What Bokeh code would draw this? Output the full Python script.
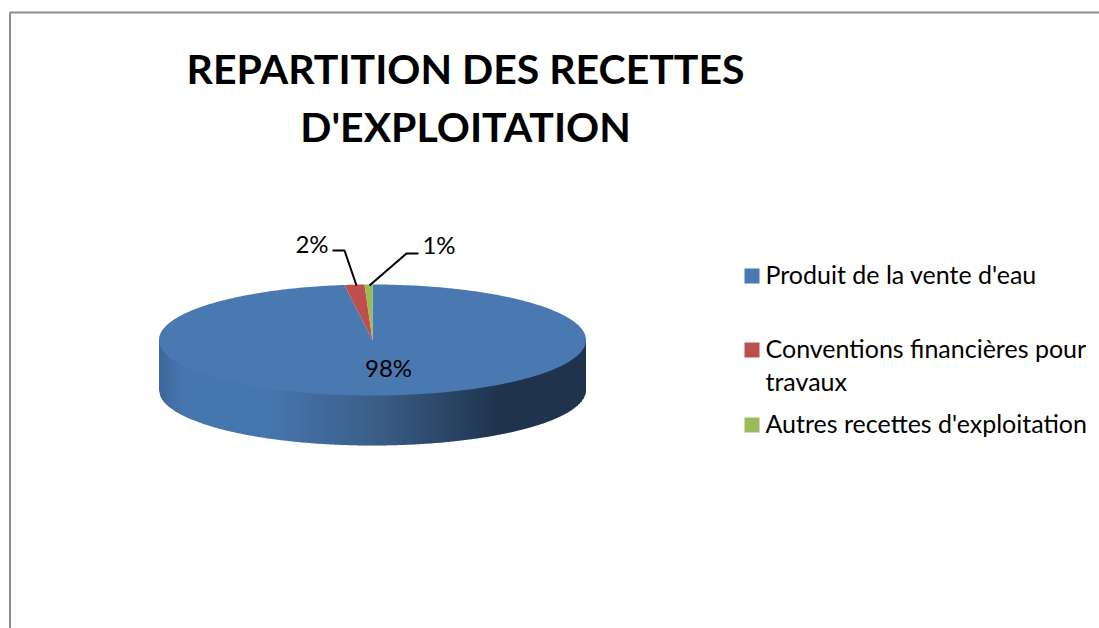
import numpy as np
from bokeh.plotting import figure
from bokeh.models import Range1d
from bokeh.core.properties import value
from bokeh.embed import file_html
from bokeh.resources import INLINE

title_lines = ["REPARTITION DES RECETTES", "D'EXPLOITATION"]
categories = ["Produit de la vente d'eau", "Conventions financières pour", "Autres recettes d'exploitation"]
legend_extra = "travaux"
shares = [97.9, 1.5, 0.6]
labels = ["98%", "2%", "1%"]
colors = ["#4A79B2", "#BE4F4C", "#9BBB59"]
side_stops_x = [0.0, 0.05, 0.26, 0.50, 0.80, 1.0]
side_stops_rgb = [(62, 104, 155), (70, 118, 174), (70, 118, 174), (60, 95, 138), (31, 51, 76), (31, 51, 76)]

W, H = 1099, 628
p = figure(width=W, height=H, output_backend="svg", toolbar_location=None,
           x_range=Range1d(0, W), y_range=Range1d(H, 0),
           min_border=0, outline_line_color=None, background_fill_color="white",
           border_fill_color="white")
p.axis.visible = False
p.grid.visible = False

# chart frame
p.line([9.5, 9.5, W], [H, 12, 12], line_color="#8C8C8C", line_width=2)

# pie geometry
cx, cy, rx, ry, depth = 372.0, 339.5, 213.5, 55.5, 50.0

# extruded side, shaded strip by strip
edges = np.arange(cx - rx, cx + rx, 2.0)
xs, ys, fills = [], [], []
for a in edges:
    b = min(a + 2.6, cx + rx)
    xx = np.array([a, a + 1.3, b])
    yy = cy + depth + ry * np.sqrt(np.clip(1 - ((xx - cx) / rx) ** 2, 0, 1))
    xs.append([a, a, a + 1.3, b, b])
    ys.append([cy, yy[0], yy[1], yy[2], cy])
    t = (a - (cx - rx)) / (2 * rx)
    rgb = [int(np.interp(t, side_stops_x, [s[i] for s in side_stops_rgb])) for i in range(3)]
    fills.append("#%02x%02x%02x" % tuple(rgb))
p.patches(xs, ys, fill_color=fills, line_color=None)

# top surface
fr = np.cumsum([0] + shares) / sum(shares) * 2 * np.pi
px, py = [], []
for i in range(len(shares)):
    th = np.linspace(fr[i], fr[i + 1], max(3, int((fr[i + 1] - fr[i]) * 60)))
    px.append([cx] + list(cx + rx * np.sin(th)))
    py.append([cy] + list(cy - ry * np.cos(th)))
p.patches(px, py, fill_color=colors, line_color=None)

# leader lines
p.line([332, 344, 356], [250, 250, 285], line_color="black", line_width=2)
p.line([418, 406, 369], [253, 253, 285], line_color="black", line_width=2)

font = value("Lato")
p.text([388, 311.5, 438.5], [367, 243, 244], text=labels, text_font=font, text_font_size="24px",
       text_color="black", text_align="center", text_baseline="middle")

# title
p.text([465, 465], [68, 126], text=title_lines, text_font=font, text_font_style="bold",
       text_font_size="41px", text_color="black", text_align="center", text_baseline="middle")

# legend
p.rect([751.5] * 3, [275.5, 349.5, 424.5], width=15, height=15, fill_color=colors, line_color=None)
p.text([765, 765, 765, 765], [273, 347, 380, 422], text=[categories[0], categories[1], legend_extra, categories[2]],
       text_font=font, text_font_size="25px", text_color="black", text_align="left", text_baseline="middle")

open("out.html", "w").write(file_html(p, INLINE))
